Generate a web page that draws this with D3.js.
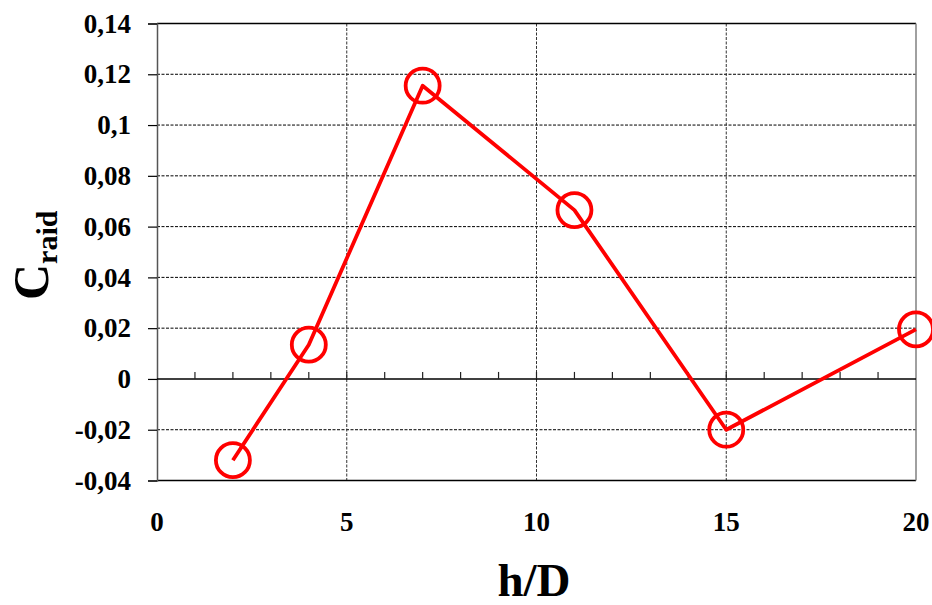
<!DOCTYPE html>
<html><head><meta charset="utf-8">
<script src="https://cdn.jsdelivr.net/npm/d3@7"></script>
<style>body{margin:0;background:#fff}svg{display:block}</style>
</head><body>
<svg id="chart" width="932" height="605"></svg>
<script>
const xValues = [2, 4, 7, 11, 15, 20];
const yValues = [-0.032, 0.0135, 0.1155, 0.0665, -0.020, 0.0195];
const xTicks = [0, 5, 10, 15, 20];
const yTicks = [-0.04, -0.02, 0, 0.02, 0.04, 0.06, 0.08, 0.1, 0.12, 0.14];
const minorXTicks = d3.range(1, 20);

const svg = d3.select("#chart");
const L = 157, R = 916, T = 23.5, B = 480.5;
const x = d3.scaleLinear().domain([0, 20]).range([L, R]);
const y = d3.scaleLinear().domain([-0.04, 0.14]).range([B, T]);
const fmt = v => (Math.abs(v) < 1e-9 ? "0" : String(+v.toFixed(2)).replace(".", ","));
const font = "'Liberation Serif','Times New Roman',serif";

// horizontal gridlines
svg.append("g").selectAll("line").data(yTicks.filter(v => v > -0.04 && v < 0.14 && v !== 0)).join("line")
  .attr("x1", L).attr("x2", R).attr("y1", d => y(d)).attr("y2", d => y(d))
  .attr("stroke", "#000").attr("stroke-width", 1).attr("stroke-dasharray", "3,1.5");
// vertical gridlines
svg.append("g").selectAll("line").data(xTicks.filter(v => v > 0 && v < 20)).join("line")
  .attr("x1", d => x(d)).attr("x2", d => x(d)).attr("y1", T).attr("y2", B)
  .attr("stroke", "#333").attr("stroke-width", 1).attr("stroke-dasharray", "3,1.5");
// borders
svg.append("line").attr("x1", L).attr("x2", R).attr("y1", T).attr("y2", T).attr("stroke", "#000").attr("stroke-width", 1.3);
svg.append("line").attr("x1", L).attr("x2", R).attr("y1", B).attr("y2", B).attr("stroke", "#000").attr("stroke-width", 1.3);
svg.append("line").attr("x1", R).attr("x2", R).attr("y1", T).attr("y2", B).attr("stroke", "#808080").attr("stroke-width", 1.5);
// y axis
const yAxis = d3.axisLeft(y).tickValues(yTicks).tickFormat(fmt).tickSize(9).tickPadding(17);
const gy = svg.append("g").attr("transform", `translate(${L},0)`).call(yAxis);
gy.select(".domain").attr("stroke", "#555").attr("stroke-width", 1.5);
gy.selectAll(".tick line").attr("stroke", "#000").attr("stroke-width", 1.2);
gy.selectAll(".tick text").attr("font-family", font).attr("font-weight", "bold").attr("font-size", 27).attr("fill", "#000");
// zero axis with minor ticks
svg.append("line").attr("x1", L).attr("x2", R).attr("y1", y(0)).attr("y2", y(0)).attr("stroke", "#000").attr("stroke-width", 1.5);
svg.append("g").selectAll("line").data(minorXTicks).join("line")
  .attr("x1", d => x(d)).attr("x2", d => x(d)).attr("y1", y(0)).attr("y2", y(0) - 7)
  .attr("stroke", "#222").attr("stroke-width", 1.2);
// x tick labels
svg.append("g").selectAll("text").data(xTicks).join("text")
  .attr("x", d => x(d)).attr("y", 531).attr("text-anchor", "middle")
  .attr("font-family", font).attr("font-weight", "bold").attr("font-size", 27).text(d => d);
// series
const pts = xValues.map((v, i) => [v, yValues[i]]);
svg.append("path").datum(pts)
  .attr("d", d3.line().x(d => x(d[0])).y(d => y(d[1])))
  .attr("fill", "none").attr("stroke", "#ff0000").attr("stroke-width", 3.8).attr("stroke-linejoin", "round");
svg.append("g").selectAll("circle").data(pts).join("circle")
  .attr("cx", d => x(d[0])).attr("cy", d => y(d[1])).attr("r", 17)
  .attr("fill", "none").attr("stroke", "#ff0000").attr("stroke-width", 3.8);
// axis titles
svg.append("text").attr("x", 534).attr("y", 596).attr("text-anchor", "middle")
  .attr("font-family", font).attr("font-weight", "bold").attr("font-size", 47).text("h/D");
const yt = svg.append("text").attr("transform", "translate(48,300) rotate(-90)")
  .attr("font-family", font).attr("font-weight", "bold");
yt.append("tspan").attr("font-size", 50).text("C");
yt.append("tspan").attr("font-size", 30).attr("dy", 9).text("raid");
</script>
</body></html>
